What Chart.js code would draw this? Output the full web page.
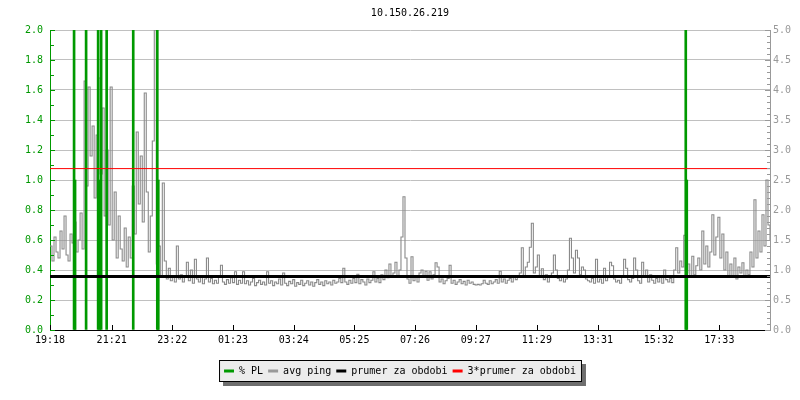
<!DOCTYPE html>
<html>
<head>
<meta charset="utf-8">
<script src="https://cdn.jsdelivr.net/npm/chart.js@4/dist/chart.umd.min.js"></script>
<style>
  html, body { margin: 0; padding: 0; background: #fff; }
  #wrap { width: 800px; height: 400px; }
</style>
</head>
<body>
<div id="wrap"><canvas id="c" width="800" height="400"></canvas></div>
<script>
// time axis: minutes since 19:18
const spanMinutes = 1436;
const tickMinutes = [0, 123, 244, 365, 486, 607, 728, 849, 971, 1093, 1214, 1335];
const tickLabels = ['19:18', '21:21', '23:22', '01:23', '03:24', '05:25', '07:26', '09:27', '11:29', '13:31', '15:32', '17:33'];

// % PL (left axis), spikes only
const plMinutes = [48, 50, 72, 96, 99, 102, 113, 166, 214, 216, 1268, 1270];
const plValues = [2.0, 1.0, 2.0, 2.0, 1.0, 2.0, 2.0, 2.0, 2.0, 1.0, 2.0, 1.0];

// avg ping (right axis), one sample every 4 minutes
const pingStep = 4;
const pingValues = [
  1.4, 1.15, 1.55, 1.3, 1.2, 1.65, 1.35, 1.9, 1.25, 1.15, 1.6, 1.45, 1.8, 1.3, 1.5, 1.95, 1.35, 4.15, 2.4, 4.05,
  2.9, 3.4, 2.2, 3.25, 4.2, 2.6, 3.7, 1.9, 3.0, 1.75, 4.05, 1.5, 2.3, 1.2, 1.9, 1.35, 1.15, 1.7, 1.05, 1.55,
  1.2, 2.4, 1.6, 3.3, 2.1, 2.9, 1.8, 3.95, 2.3, 1.3, 1.9, 3.15, 5.0, 1.1, 1.4, 0.9, 2.45, 1.15, 0.85, 1.03,
  0.82, 0.9, 0.8, 1.4, 0.85, 0.92, 0.8, 0.88, 1.13, 0.82, 1.0, 0.78, 1.18, 0.85, 0.8, 0.9, 0.77, 0.85, 1.2, 0.8,
  0.86, 0.77, 0.83, 0.78, 0.88, 1.08, 0.8, 0.76, 0.84, 0.78, 0.87, 0.79, 0.97, 0.76, 0.83, 0.78, 0.97, 0.77, 0.82, 0.75,
  0.8, 0.86, 0.74, 0.79, 0.83, 0.76, 0.8, 0.75, 0.97, 0.78, 0.82, 0.74, 0.8, 0.77, 0.85, 0.75, 0.95, 0.78, 0.74, 0.81,
  0.77, 0.84, 0.73, 0.79, 0.76, 0.83, 0.74, 0.78, 0.82, 0.75, 0.8, 0.73, 0.79, 0.84, 0.76, 0.8, 0.74, 0.82, 0.77, 0.8,
  0.75, 0.83, 0.78, 0.8, 0.86, 0.79, 1.03, 0.8, 0.76, 0.83, 0.78, 0.86, 0.79, 0.93, 0.77, 0.84, 0.8, 0.75, 0.85, 0.79,
  0.83, 0.97, 0.8, 0.86, 0.79, 0.92, 0.84, 1.0, 0.87, 1.1, 0.9, 0.95, 1.13, 0.88, 1.0, 1.55, 2.22, 1.2, 0.85, 0.78,
  1.22, 0.82, 0.88, 0.8, 0.95, 1.0, 0.88, 0.98, 0.83, 0.97, 0.85, 0.92, 1.12, 1.05, 0.8, 0.85, 0.77, 0.82, 0.86, 1.08,
  0.78, 0.83, 0.76, 0.8, 0.84, 0.77, 0.81, 0.75, 0.83, 0.78, 0.8, 0.76, 0.75, 0.76, 0.75, 0.77, 0.83, 0.78, 0.76, 0.82,
  0.77, 0.8, 0.84, 0.78, 0.98, 0.8, 0.85, 0.78, 0.83, 0.86, 0.8, 0.88, 0.84, 0.9, 0.95, 1.37, 0.9, 1.05, 1.13, 1.38,
  1.78, 0.95, 1.05, 1.25, 0.9, 1.02, 0.84, 0.92, 0.8, 0.88, 0.95, 1.25, 1.0, 0.86, 0.82, 0.9, 0.8, 0.85, 1.0, 1.53,
  1.2, 0.95, 1.33, 1.2, 0.92, 1.05, 1.0, 0.85, 0.82, 0.8, 0.86, 0.78, 1.18, 0.8, 0.85, 0.78, 1.03, 0.82, 0.88, 1.13,
  1.07, 0.85, 0.8, 0.83, 0.78, 0.9, 1.18, 1.03, 0.84, 0.8, 0.86, 1.2, 1.0, 0.82, 0.78, 1.13, 0.88, 1.0, 0.8, 0.92,
  0.83, 0.78, 0.86, 0.8, 0.88, 0.78, 1.0, 0.84, 0.8, 0.86, 0.79, 1.0, 1.37, 0.95, 1.15, 1.05, 1.58, 0.95, 1.1, 0.88,
  1.23, 0.92, 1.07, 1.2, 1.0, 1.65, 1.1, 1.4, 1.05, 1.3, 1.92, 1.25, 1.55, 1.88, 1.2, 1.6, 1.0, 1.3, 0.88, 1.1,
  0.9, 1.2, 0.85, 1.05, 0.95, 1.12, 0.88, 1.0, 0.92, 1.3, 1.05, 2.17, 1.2, 1.65, 1.3, 1.92, 1.4, 2.5, 1.75, 1.5
];

// period average and 3x average (right axis)
const avgPing = 0.89;
const avgPing3 = 2.69;

const GREEN = '#009900';
const GRAY = '#999999';
const PING = '#8a8a8a';
const FONT = {family: "'DejaVu Sans Mono', monospace", size: 10};

// small tick marks drawn inside the plot, like rrdtool does
const innerTicks = {
  id: 'innerTicks',
  afterDatasetsDraw(chart) {
    const {ctx, chartArea: a, scales} = chart;
    ctx.save();
    ctx.lineWidth = 1;
    ctx.beginPath();
    ctx.strokeStyle = GREEN;
    for (let k = 0; k <= 20; k++) {
      const y = Math.round(scales.y.getPixelForValue(k / 10)) + 0.5;
      ctx.moveTo(a.left, y);
      ctx.lineTo(a.left + (k % 2 ? 4 : 5), y);
    }
    ctx.stroke();
    ctx.beginPath();
    ctx.strokeStyle = GRAY;
    for (let k = 0; k <= 50; k++) {
      const y = Math.round(scales.y1.getPixelForValue(k / 10)) + 0.5;
      ctx.moveTo(a.right, y);
      ctx.lineTo(a.right - (k % 5 ? 3 : 5), y);
    }
    ctx.stroke();
    ctx.beginPath();
    ctx.strokeStyle = '#000';
    tickMinutes.forEach(m => {
      const x = Math.round(scales.x.getPixelForValue(m)) + 0.5;
      ctx.moveTo(x, a.bottom);
      ctx.lineTo(x, a.bottom - 5);
    });
    ctx.stroke();
    ctx.restore();
  }
};

// grey box with shadow behind the legend
const legendBox = {
  id: 'legendBox',
  beforeDraw(chart) {
    const hb = chart.legend.legendHitBoxes;
    if (!hb || !hb.length) return;
    const ctx = chart.ctx;
    const l = Math.min(...hb.map(b => b.left)) - 5;
    const r = Math.max(...hb.map(b => b.left + b.width)) + 6;
    const t = hb[0].top - 6;
    const btm = hb[0].top + hb[0].height + 6;
    ctx.save();
    ctx.fillStyle = '#6e6e6e';
    ctx.fillRect(l + 4, t + 4, r - l, btm - t);
    ctx.fillStyle = '#ececec';
    ctx.fillRect(l, t, r - l, btm - t);
    ctx.strokeStyle = '#000';
    ctx.lineWidth = 1;
    ctx.strokeRect(l + 0.5, t + 0.5, r - l - 1, btm - t - 1);
    ctx.restore();
  }
};

const ctx = document.getElementById('c');

new Chart(ctx, {
  type: 'line',
  data: {
    datasets: [{
      type: 'bar',
      label: '% PL',
      data: plMinutes.map((m, i) => ({x: m, y: plValues[i]})),
      backgroundColor: GREEN,
      borderColor: GREEN,
      borderWidth: 0,
      barThickness: 2,
      yAxisID: 'y',
      order: 3
    }, {
      label: 'avg ping',
      data: pingValues.map((v, i) => ({x: i * pingStep, y: v})),
      borderColor: PING,
      backgroundColor: GRAY,
      borderWidth: 1.1,
      pointRadius: 0,
      stepped: true,
      yAxisID: 'y1',
      order: 4
    }, {
      label: 'prumer za obdobi',
      data: [{x: 0, y: avgPing}, {x: spanMinutes, y: avgPing}],
      borderColor: '#000',
      backgroundColor: '#000',
      borderWidth: 3,
      pointRadius: 0,
      yAxisID: 'y1',
      order: 2
    }, {
      label: '3*prumer za obdobi',
      data: [{x: 0, y: avgPing3}, {x: spanMinutes, y: avgPing3}],
      borderColor: '#ff0000',
      backgroundColor: '#ff0000',
      borderWidth: 1,
      pointRadius: 0,
      yAxisID: 'y1',
      order: 1
    }]
  },
  options: {
    responsive: false,
    animation: false,
    layout: {padding: {bottom: 14}},
    scales: {
      x: {
        type: 'linear',
        min: 0,
        max: spanMinutes,
        offset: false,
        grid: {display: false, drawTicks: false, offset: false},
        border: {color: '#000', width: 1},
        afterBuildTicks: s => { s.ticks = tickMinutes.map(v => ({value: v})); },
        afterFit: s => { s.height = 31; },
        ticks: {
          autoSkip: false,
          maxRotation: 0,
          padding: 4,
          color: '#000',
          font: FONT,
          callback: (v, i) => tickLabels[i]
        }
      },
      y: {
        position: 'left',
        min: 0,
        max: 2,
        afterFit: s => { s.width = 50; },
        grid: {
          drawTicks: false,
          color: c => c.tick.value === 0 ? 'rgba(0,0,0,0)' : '#c0c0c0'
        },
        border: {color: GREEN, width: 1},
        ticks: {
          stepSize: 0.2,
          padding: 7,
          color: GREEN,
          font: FONT,
          callback: v => v.toFixed(1)
        }
      },
      y1: {
        position: 'right',
        min: 0,
        max: 5,
        afterFit: s => { s.width = 30; },
        grid: {display: false, drawTicks: false},
        border: {color: GRAY, width: 1},
        ticks: {
          stepSize: 0.5,
          padding: 3,
          color: GRAY,
          font: FONT,
          callback: v => v.toFixed(1)
        }
      }
    },
    plugins: {
      title: {
        display: true,
        text: '10.150.26.219',
        fullSize: false,
        color: '#000',
        font: {family: FONT.family, size: 10, weight: 'normal'},
        padding: {top: 7.5, bottom: 10.5}
      },
      legend: {
        position: 'bottom',
        labels: {
          boxWidth: 10,
          boxHeight: 3,
          padding: 5,
          color: '#000',
          font: FONT,
          generateLabels: chart => chart.data.datasets.map((ds, i) => ({
            text: ds.label,
            fillStyle: i === 1 ? GRAY : ds.borderColor,
            strokeStyle: ds.borderColor,
            lineWidth: 0,
            hidden: false,
            datasetIndex: i
          }))
        }
      },
      tooltip: {enabled: false}
    }
  },
  plugins: [innerTicks, legendBox]
});
</script>
</body>
</html>
